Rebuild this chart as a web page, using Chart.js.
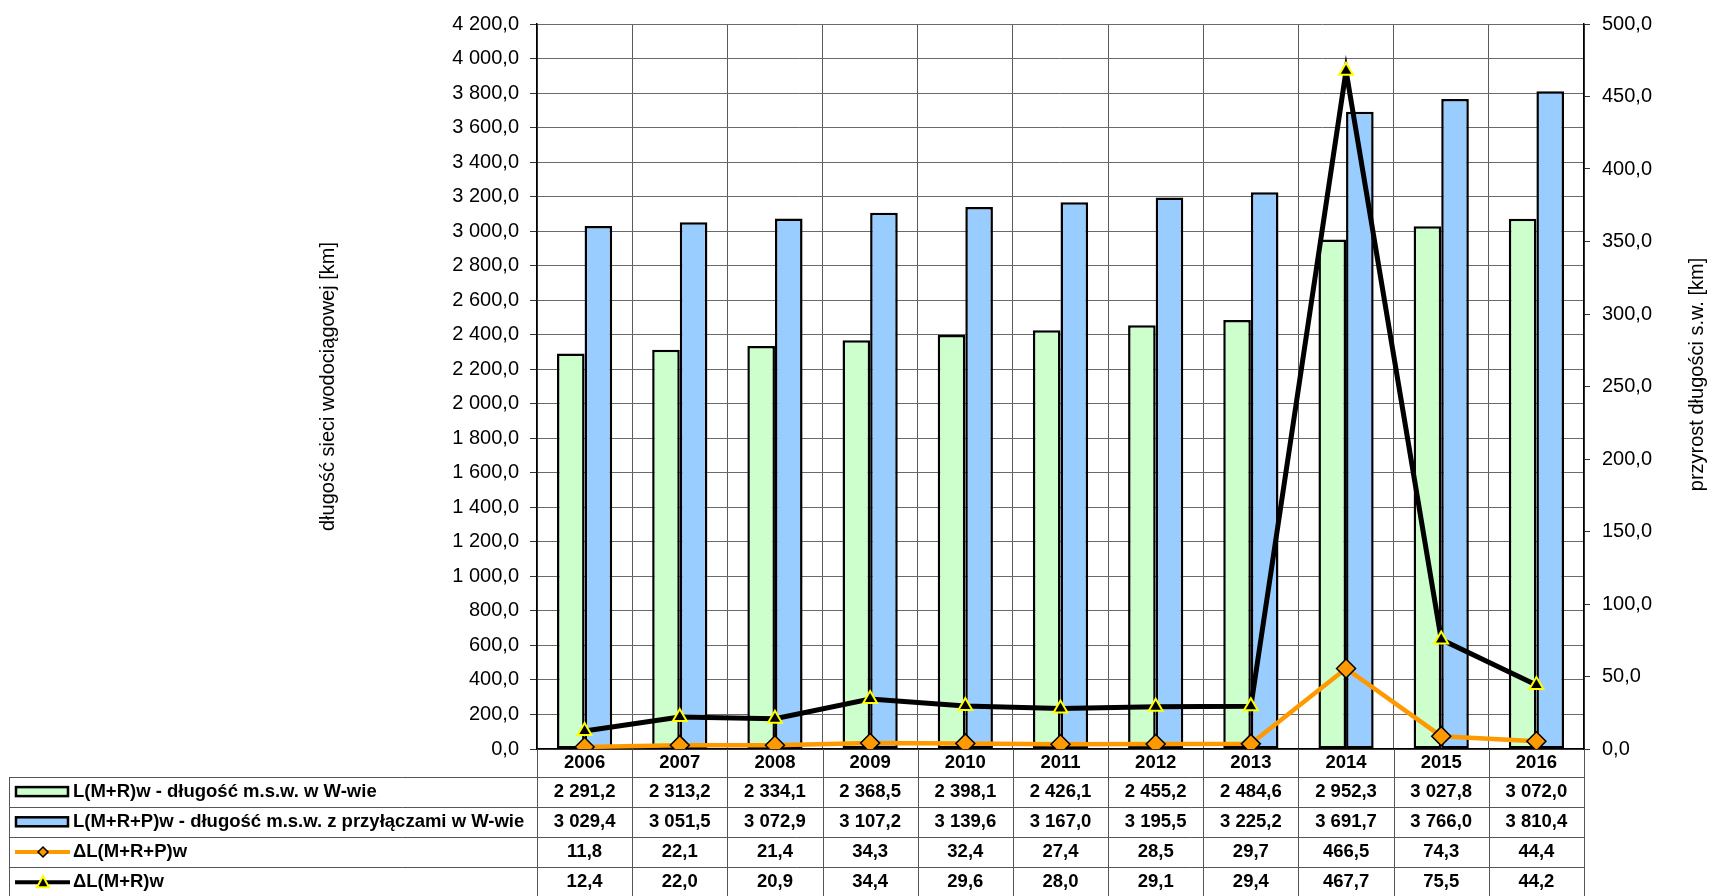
<!DOCTYPE html>
<html>
<head>
<meta charset="utf-8">
<script src="https://cdn.jsdelivr.net/npm/chart.js@4"></script>
<style>
html,body{margin:0;padding:0;background:#fff;}
canvas{display:block;}
</style>
</head>
<body>
<canvas id="c" width="1715" height="896"></canvas>
<script>
// ---- data ----
const years = ['2006','2007','2008','2009','2010','2011','2012','2013','2014','2015','2016'];
const lenMR  = [2291.2, 2313.2, 2334.1, 2368.5, 2398.1, 2426.1, 2455.2, 2484.6, 2952.3, 3027.8, 3072.0];
const lenMRP = [3029.4, 3051.5, 3072.9, 3107.2, 3139.6, 3167.0, 3195.5, 3225.2, 3691.7, 3766.0, 3810.4];
const dMRP   = [11.8, 22.1, 21.4, 34.3, 32.4, 27.4, 28.5, 29.7, 466.5, 74.3, 44.4];
const dMR    = [12.4, 22.0, 20.9, 34.4, 29.6, 28.0, 29.1, 29.4, 467.7, 75.5, 44.2];
const seriesNames = [
  'L(M+R)w - długość m.s.w. w W-wie',
  'L(M+R+P)w - długość m.s.w. z przyłączami w W-wie',
  'ΔL(M+R+P)w',
  'ΔL(M+R)w'
];
const leftAxisTitle = 'długość sieci wodociągowej [km]';
const rightAxisTitle = 'przyrost długości s.w. [km]';
const leftMax = 4200, leftStep = 200;
const rightMax = 500, rightStep = 50;

// ---- helpers ----
function fmt(v){
  const s = Number(v).toFixed(1);
  const parts = s.split('.');
  return parts[0].replace(/\B(?=(\d{3})+(?!\d))/g, ' ') + ',' + parts[1];
}

const COL_GREEN = '#CCFFCC', COL_BLUE = '#99CCFF', COL_ORANGE = '#FF9900', COL_YELLOW = '#FFFF00';
const FONT = "'Liberation Sans', Arial, sans-serif";

// right axis title reads bottom-to-top as in the reference
const rightTitlePlugin = {
  id: 'rightTitle',
  afterDraw(chart){
    const ctx = chart.ctx;
    const s = chart.scales.y1;
    const area = chart.chartArea;
    ctx.save();
    ctx.translate(s.right - 18, (area.top + area.bottom)/2 - 12);
    ctx.rotate(-Math.PI/2);
    ctx.font = '20px ' + FONT;
    ctx.fillStyle = '#000';
    ctx.textAlign = 'center';
    ctx.textBaseline = 'middle';
    ctx.fillText(rightAxisTitle, 0, 0);
    ctx.restore();
  }
};

const tablePlugin = {
  id: 'dataTable',
  afterDraw(chart){
    const ctx = chart.ctx;
    const xs = chart.scales.x;
    const area = chart.chartArea;
    const H = chart.height;
    const rowTop = 776.5, rowH = 30.2, tableLeft = 9;
    const rows = [lenMR, lenMRP, dMRP, dMR];
    const n = years.length;
    ctx.save();
    ctx.strokeStyle = '#555';
    ctx.lineWidth = 1;
    const line = (x1,y1,x2,y2)=>{ctx.beginPath();ctx.moveTo(x1,y1);ctx.lineTo(x2,y2);ctx.stroke();};
    for (let r = 0; r <= 4; r++){
      const y = Math.round(rowTop + r*rowH) + 0.5;
      line(tableLeft, y, area.right, y);
    }
    const bounds = [];
    for (let i = 0; i <= n; i++){
      if (i === 0) bounds.push(area.left);
      else if (i === n) bounds.push(area.right);
      else bounds.push((xs.getPixelForValue(i-1) + xs.getPixelForValue(i))/2);
    }
    bounds.forEach(b => { const bx = Math.round(b)+0.5; line(bx, area.bottom, bx, H); });
    line(tableLeft+0.5, Math.round(rowTop)+0.5, tableLeft+0.5, H);

    // values
    ctx.fillStyle = '#000';
    ctx.font = 'bold 18.5px ' + FONT;
    ctx.textAlign = 'center';
    ctx.textBaseline = 'middle';
    rows.forEach((arr, r) => {
      const cy = rowTop + r*rowH + rowH/2;
      arr.forEach((v, i) => ctx.fillText(fmt(v), xs.getPixelForValue(i), cy));
    });

    // legend keys + names
    ctx.textAlign = 'left';
    rows.forEach((arr, r) => {
      const cy = rowTop + r*rowH + rowH/2;
      if (r < 2){
        ctx.fillStyle = r === 0 ? COL_GREEN : COL_BLUE;
        ctx.fillRect(16, cy-4.5, 52, 9);
        ctx.strokeStyle = '#000'; ctx.lineWidth = 2.5;
        ctx.strokeRect(16, cy-4.5, 52, 9);
      } else if (r === 2){
        ctx.strokeStyle = COL_ORANGE; ctx.lineWidth = 4;
        line(15, cy, 70, cy);
        ctx.beginPath();
        ctx.moveTo(43, cy-5); ctx.lineTo(48, cy); ctx.lineTo(43, cy+5); ctx.lineTo(38, cy); ctx.closePath();
        ctx.fillStyle = COL_ORANGE; ctx.fill();
        ctx.strokeStyle = '#000'; ctx.lineWidth = 1.5; ctx.stroke();
      } else {
        ctx.strokeStyle = '#000'; ctx.lineWidth = 4;
        line(15, cy, 70, cy);
        ctx.beginPath();
        ctx.moveTo(43, cy-6); ctx.lineTo(49, cy+5); ctx.lineTo(37, cy+5); ctx.closePath();
        ctx.fillStyle = '#000'; ctx.fill();
        ctx.strokeStyle = COL_YELLOW; ctx.lineWidth = 2; ctx.stroke();
      }
      ctx.fillStyle = '#000';
      ctx.fillText(seriesNames[r], 73, cy);
    });
    ctx.restore();
  }
};

Chart.defaults.font.family = FONT;
Chart.defaults.color = '#000';

new Chart(document.getElementById('c'), {
  type: 'bar',
  data: {
    labels: years,
    datasets: [
      { type: 'line', label: seriesNames[2], data: dMRP, yAxisID: 'y', order: 1,
        borderColor: COL_ORANGE, borderWidth: 4.5, tension: 0,
        pointStyle: 'rectRot', pointRadius: 9.5, pointBackgroundColor: COL_ORANGE,
        pointBorderColor: '#000', pointBorderWidth: 1.5 },
      { type: 'line', label: seriesNames[3], data: dMR, yAxisID: 'y1', order: 2,
        borderColor: '#000', borderWidth: 5, tension: 0,
        pointStyle: 'triangle', pointRadius: 8, pointBackgroundColor: '#000',
        pointBorderColor: COL_YELLOW, pointBorderWidth: 2 },
      { label: seriesNames[0], data: lenMR, yAxisID: 'y', order: 3,
        backgroundColor: COL_GREEN, borderColor: '#000', borderWidth: 2.5, borderSkipped: false,
        barPercentage: 1.0, categoryPercentage: 0.58 },
      { label: seriesNames[1], data: lenMRP, yAxisID: 'y', order: 4,
        backgroundColor: COL_BLUE, borderColor: '#000', borderWidth: 2.5, borderSkipped: false,
        barPercentage: 1.0, categoryPercentage: 0.58 }
    ]
  },
  options: {
    responsive: false,
    animation: false,
    layout: { padding: { top: 22, left: 0, right: 0, bottom: 0 } },
    plugins: { legend: { display: false }, tooltip: { enabled: false } },
    scales: {
      x: {
        offset: true,
        grid: { offset: true, color: '#5a5a5a', lineWidth: 1, drawTicks: false },
        border: { color: '#000', width: 1.5 },
        ticks: { font: { size: 18.5, weight: 'bold' }, padding: 3, color: '#000', maxRotation: 0 },
        afterFit(s){ s.height = 147; }
      },
      y: {
        position: 'left',
        min: 0, max: leftMax,
        ticks: { stepSize: leftStep, padding: 11, font: { size: 20 }, color: '#000',
                 callback: v => fmt(v) },
        grid: { color: '#6a6a6a', lineWidth: 1, tickLength: 7, tickColor: '#333' },
        border: { color: '#000', width: 1.5 },
        title: { display: true, text: leftAxisTitle, font: { size: 20 }, color: '#000',
                 padding: { top: 316, bottom: 0 } },
        afterFit(s){ s.width = 537; }
      },
      y1: {
        position: 'right',
        min: 0, max: rightMax,
        ticks: { stepSize: rightStep, padding: 12, font: { size: 20 }, color: '#000',
                 callback: v => fmt(v) },
        grid: { drawOnChartArea: false, tickLength: 6, tickColor: '#333' },
        border: { color: '#000', width: 1.5 },
        title: { display: false },
        afterFit(s){ s.width = 131; }
      }
    }
  },
  plugins: [tablePlugin, rightTitlePlugin]
});
</script>
</body>
</html>
